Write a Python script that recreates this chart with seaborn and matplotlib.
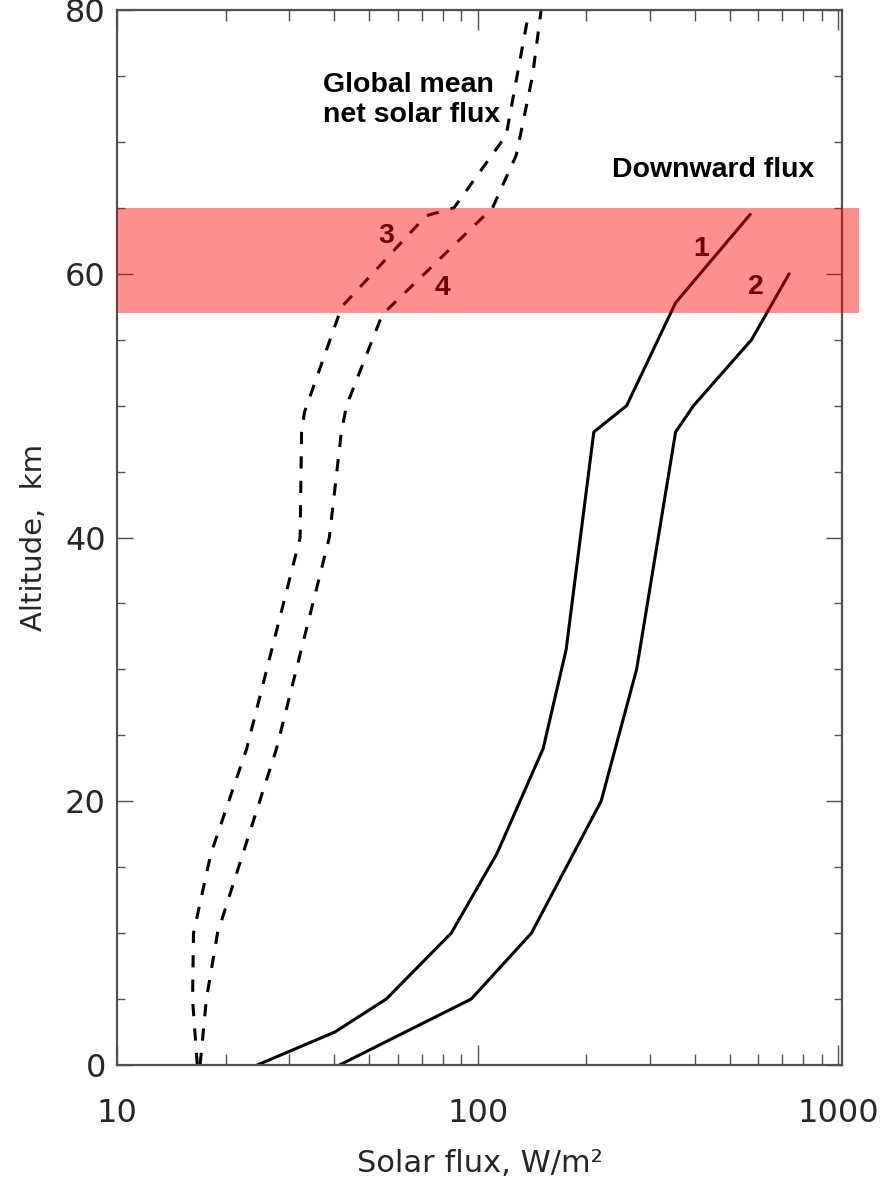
import numpy as np
import pandas as pd
import matplotlib
import matplotlib.pyplot as plt
from matplotlib.ticker import FixedLocator, MultipleLocator, LogLocator, NullFormatter, FuncFormatter
import seaborn as sns

matplotlib.use('Agg')

# Downward flux (solid) and global mean net solar flux (dashed), W/m^2 vs altitude km
alt_1 = [0, 2.5, 5, 10, 16, 24, 31.5, 48, 50, 57.8, 64.5]
flux_1 = [24.5, 40.2, 55.8, 84.5, 113, 152, 176, 210, 259, 354, 570]

alt_2 = [0, 5, 10, 20, 30, 48, 50, 55, 60]
flux_2 = [41.4, 96, 141, 220, 276, 354, 397, 575, 731]

alt_3 = [0, 5, 10, 16, 24, 40, 48, 49.5, 57.5, 64.4, 65, 70.5, 80]
flux_3 = [16.7, 16.2, 16.3, 18.2, 22.9, 32.2, 32.5, 33.1, 42, 72, 86, 120, 139]

alt_4 = [0, 5, 10, 24, 40, 48, 50, 56.9, 65, 69, 75, 80]
flux_4 = [17.0, 17.7, 19.0, 27.7, 38.8, 41.9, 43.3, 54.4, 110, 128, 142, 150]

curves = {'1': (flux_1, alt_1), '2': (flux_2, alt_2), '3': (flux_3, alt_3), '4': (flux_4, alt_4)}
df = pd.concat([pd.DataFrame({'flux': f, 'alt': a, 'curve': k}) for k, (f, a) in curves.items()])

sns.set_style('ticks')
plt.rcParams['font.family'] = ['DejaVu Sans']

fig = plt.figure(figsize=(8.93, 11.79), dpi=100)
ax = fig.add_axes([0.131, 0.0967, 0.812, 0.8948])

sns.lineplot(data=df, x='flux', y='alt', hue='curve', style='curve', estimator=None, sort=False,
             palette={k: 'black' for k in curves}, dashes={'1': '', '2': '', '3': (4, 4), '4': (4, 4)},
             lw=2.2, legend=False, ax=ax)

ax.set_xscale('log')
ax.set_xlim(10, 1025)
ax.set_ylim(0, 80)

ax.xaxis.set_major_locator(FixedLocator([10, 100, 1000]))
ax.xaxis.set_major_formatter(FuncFormatter(lambda v, p: '%d' % v))
ax.xaxis.set_minor_locator(LogLocator(base=10, subs=np.arange(2, 10)))
ax.xaxis.set_minor_formatter(NullFormatter())
ax.yaxis.set_major_locator(MultipleLocator(20))
ax.yaxis.set_minor_locator(MultipleLocator(5))

gray = '#505050'
for s in ax.spines.values():
    s.set_color(gray)
    s.set_linewidth(1.6)
ax.tick_params(which='both', direction='in', top=True, right=True, color=gray, width=1.0)
ax.tick_params(axis='x', which='major', length=14.4, pad=24, labelsize=23)
ax.tick_params(axis='x', which='minor', length=7.6)
ax.tick_params(axis='y', which='major', length=11.3, pad=8, labelsize=23)
ax.tick_params(axis='y', which='minor', length=6)

ax.set_xlabel('Solar flux, W/m²', fontsize=22, labelpad=14)
ax.set_ylabel('Altitude,  km', fontsize=21, labelpad=12)

txt = dict(fontsize=20.5, fontweight='bold', family=['Liberation Sans', 'DejaVu Sans'], color='black')
ax.text(37.2, 73.2, 'Global mean\nnet solar flux', ha='left', va='center', linespacing=1.2, **txt)
ax.text(451, 67.9, 'Downward flux', ha='center', va='center', **txt)
for lab, x, y in [('3', 55.8, 62.9), ('4', 79.8, 58.9), ('1', 418, 61.9), ('2', 593, 59.0)]:
    ax.text(x, y, lab, ha='center', va='center', **txt)

# translucent red layer over the cloud top region
ax.axhspan(57, 65, xmin=0, xmax=1.023, color='red', alpha=0.44, lw=0, zorder=10, clip_on=False)

plt.savefig('out.png', dpi=100)
